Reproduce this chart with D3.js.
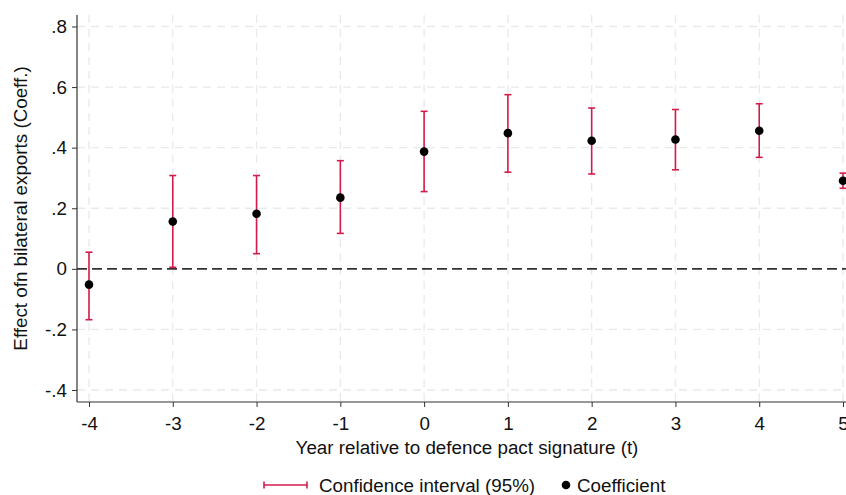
<!DOCTYPE html>
<html><head><meta charset="utf-8">
<script src="https://cdn.jsdelivr.net/npm/d3@7"></script>
<style>body{margin:0;background:#fff;} text{font-family:"Liberation Sans",Arial,sans-serif;}</style>
</head><body>
<script>
const years = [-4,-3,-2,-1,0,1,2,3,4,5];
const coef  = [-0.052,0.156,0.182,0.235,0.387,0.448,0.423,0.427,0.456,0.291];
const ciLow = [-0.168,0.005,0.050,0.117,0.255,0.319,0.313,0.327,0.368,0.266];
const ciHigh= [0.055,0.308,0.308,0.357,0.520,0.575,0.531,0.526,0.545,0.316];
const yTicks = [-0.4,-0.2,0,0.2,0.4,0.6,0.8];
const yTickLabels = ["-.4","-.2","0",".2",".4",".6",".8"];
const xTicks = [-4,-3,-2,-1,0,1,2,3,4,5];
const xTickLabels = ["-4","-3","-2","-1","0","1","2","3","4","5"];

const W=846,H=495,FS=18.8;
const svg=d3.select("body").append("svg").attr("width",W).attr("height",H);
const x=d3.scaleLinear().domain([-4,5]).range([89,843]);
const y=d3.scaleLinear().domain([-0.4,0.8]).range([390,26.5]);
const red="#d31c4c";

// grid
svg.append("g").selectAll("line").data(yTicks.filter(d=>d!==0)).join("line")
  .attr("x1",77).attr("x2",W).attr("y1",d=>y(d)).attr("y2",d=>y(d))
  .attr("stroke","#e9e9e9").attr("stroke-width",1.3).attr("stroke-dasharray","8,6");
svg.append("g").selectAll("line").data(xTicks).join("line")
  .attr("x1",d=>x(d)).attr("x2",d=>x(d)).attr("y1",15).attr("y2",402)
  .attr("stroke","#e9e9e9").attr("stroke-width",1.3).attr("stroke-dasharray","8,6");

// zero line
svg.append("line").attr("x1",77).attr("x2",W).attr("y1",y(0)).attr("y2",y(0))
  .attr("stroke","#333").attr("stroke-width",1.6).attr("stroke-dasharray","10,5");

// axes
const ya=svg.append("g").attr("transform","translate(77,0)")
  .call(d3.axisLeft(y).tickValues(yTicks).tickFormat((d,i)=>yTickLabels[i]).tickSize(5).tickPadding(5));
const xa=svg.append("g").attr("transform","translate(0,402)")
  .call(d3.axisBottom(x).tickValues(xTicks).tickFormat((d,i)=>xTickLabels[i]).tickSize(5).tickPadding(10));
[ya,xa].forEach(a=>{
  a.selectAll("text").attr("font-size",FS).attr("fill","#111").attr("font-family","Liberation Sans, Arial, sans-serif");
  a.selectAll("line").attr("stroke","#333");
  a.select(".domain").remove();
});
svg.append("line").attr("x1",77).attr("x2",77).attr("y1",15).attr("y2",402).attr("stroke","#333").attr("stroke-width",1.2);
svg.append("line").attr("x1",77).attr("x2",W).attr("y1",402).attr("y2",402).attr("stroke","#333").attr("stroke-width",1.2);

// CIs
const g=svg.append("g");
years.forEach((t,i)=>{
  g.append("line").attr("x1",x(t)).attr("x2",x(t)).attr("y1",y(ciLow[i])).attr("y2",y(ciHigh[i])).attr("stroke",red).attr("stroke-width",1.6);
  [ciLow[i],ciHigh[i]].forEach(v=>g.append("line").attr("x1",x(t)-3.5).attr("x2",x(t)+3.5).attr("y1",y(v)).attr("y2",y(v)).attr("stroke",red).attr("stroke-width",1.6));
});
svg.append("g").selectAll("circle").data(years).join("circle")
  .attr("cx",d=>x(d)).attr("cy",(d,i)=>y(coef[i])).attr("r",4.3).attr("fill","#000");

// titles
svg.append("text").attr("transform","translate(27,208.5) rotate(-90)").attr("text-anchor","middle")
  .attr("font-size",FS).attr("fill","#111").text("Effect ofn bilateral exports (Coeff.)");
svg.append("text").attr("x",467).attr("y",453.5).attr("text-anchor","middle")
  .attr("font-size",FS).attr("fill","#111").text("Year relative to defence pact signature (t)");

// legend
const lg=svg.append("g");
lg.append("line").attr("x1",264).attr("x2",307).attr("y1",485).attr("y2",485).attr("stroke",red).attr("stroke-width",1.6);
[264,307].forEach(xx=>lg.append("line").attr("x1",xx).attr("x2",xx).attr("y1",481.5).attr("y2",488.5).attr("stroke",red).attr("stroke-width",1.6));
lg.append("text").attr("x",319).attr("y",491.5).attr("font-size",FS).attr("fill","#111").text("Confidence interval (95%)");
lg.append("circle").attr("cx",566).attr("cy",485).attr("r",4.3).attr("fill","#000");
lg.append("text").attr("x",577).attr("y",491.5).attr("font-size",FS).attr("fill","#111").text("Coefficient");
</script>
</body></html>
